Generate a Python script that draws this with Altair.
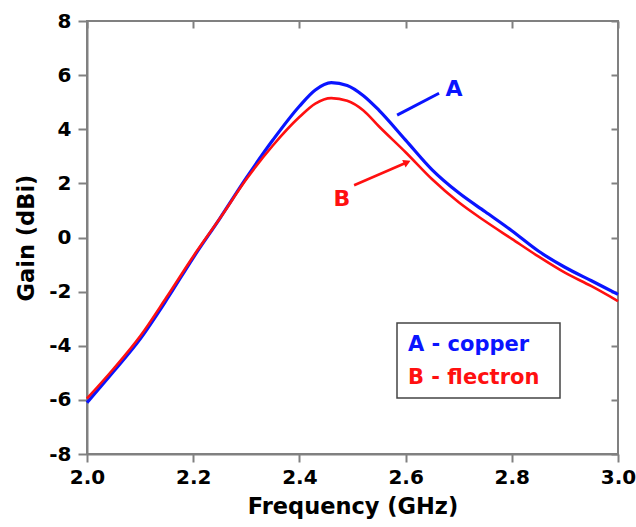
import altair as alt
import pandas as pd

# Frequency (GHz)
freq = [2.00, 2.05, 2.10, 2.15, 2.20, 2.25, 2.30, 2.35, 2.40, 2.43, 2.46, 2.49,
        2.52, 2.55, 2.60, 2.65, 2.70, 2.75, 2.80, 2.85, 2.90, 2.95, 3.00]
# A - copper gain (dBi)
gain_copper = [-6.1, -4.95, -3.75, -2.3, -0.75, 0.7, 2.2, 3.6, 4.85, 5.45, 5.72, 5.62,
               5.25, 4.7, 3.6, 2.5, 1.65, 0.95, 0.25, -0.5, -1.1, -1.6, -2.1]
# B - flectron gain (dBi)
gain_flectron = [-5.95, -4.85, -3.65, -2.2, -0.7, 0.7, 2.15, 3.4, 4.45, 4.95, 5.15, 5.05,
                 4.7, 4.1, 3.15, 2.15, 1.3, 0.6, -0.05, -0.7, -1.3, -1.8, -2.35]

x_ticks = [2.0, 2.2, 2.4, 2.6, 2.8, 3.0]
y_ticks = [-8, -6, -4, -2, 0, 2, 4, 6, 8]

# annotation positions (data units)
ann_a_line_x = [2.584, 2.663]
ann_a_line_y = [4.52, 5.33]
ann_a_text = (2.691, 5.50)
ann_b_line_x = [2.503, 2.603]
ann_b_line_y = [1.93, 2.78]
ann_b_text = (2.480, 1.44)

BLUE = "#0a14ff"
RED = "#ff1010"
GRAY = "#808080"
FONT = "DejaVu Sans"

df_a = pd.DataFrame({"f": freq, "g": gain_copper})
df_b = pd.DataFrame({"f": freq, "g": gain_flectron})

xscale = alt.Scale(domain=[2.0, 3.0], nice=False, zero=False)
yscale = alt.Scale(domain=[-8, 8], nice=False, zero=False)

x_main = alt.X("f:Q", scale=xscale, title="Frequency (GHz)",
               axis=alt.Axis(values=x_ticks, format=".1f", tickSize=8, labelPadding=5,
                             domainColor=GRAY, tickColor=GRAY, domainWidth=2, tickWidth=2,
                             labelFont=FONT, labelFontSize=20, labelFontWeight="bold",
                             labelColor="black", titleFont=FONT, titleFontSize=22.5,
                             titleFontWeight="bold", titleColor="black", titlePadding=8,
                             grid=False, labelFlush=False))
y_main = alt.Y("g:Q", scale=yscale, title="Gain (dBi)",
               axis=alt.Axis(values=y_ticks, tickSize=9, labelPadding=7,
                             labelExpr="replace(datum.label, '\u2212', '-')",
                             domainColor=GRAY, tickColor=GRAY, domainWidth=2, tickWidth=2,
                             labelFont=FONT, labelFontSize=20, labelFontWeight="bold",
                             labelColor="black", titleFont=FONT, titleFontSize=22.5,
                             titleFontWeight="bold", titleColor="black", titlePadding=10,
                             grid=False))

x_top = alt.X("f:Q", scale=xscale, title=None,
              axis=alt.Axis(orient="top", values=x_ticks, offset=-7, tickSize=7,
                            labels=False, domain=False, tickColor=GRAY, tickWidth=2, grid=False))
y_right = alt.Y("g:Q", scale=yscale, title=None,
                axis=alt.Axis(orient="right", values=y_ticks, offset=-7, tickSize=7,
                              labels=False, domain=False, tickColor=GRAY, tickWidth=2, grid=False))

line_a = alt.Chart(df_a).mark_line(color=BLUE, strokeWidth=3.2, interpolate="monotone").encode(
    x=x_main, y=y_main)
line_b = alt.Chart(df_b).mark_line(color=RED, strokeWidth=2.6, interpolate="monotone").encode(
    x=x_top, y=y_right)

plain_x = alt.X("f:Q", scale=xscale, axis=None)
plain_y = alt.Y("g:Q", scale=yscale, axis=None)

ann_a_line = alt.Chart(pd.DataFrame({"f": ann_a_line_x, "g": ann_a_line_y})).mark_line(
    color=BLUE, strokeWidth=3).encode(x=plain_x, y=plain_y)
ann_b_line = alt.Chart(pd.DataFrame({"f": ann_b_line_x, "g": ann_b_line_y})).mark_line(
    color=RED, strokeWidth=2.5).encode(x=plain_x, y=plain_y)
ann_b_head = alt.Chart(pd.DataFrame({"f": [ann_b_line_x[1]], "g": [ann_b_line_y[1]]})).mark_point(
    shape="triangle-right", filled=True, color=RED, size=70, angle=336, opacity=1).encode(
    x=plain_x, y=plain_y)

ann_text = alt.Chart(pd.DataFrame({
    "f": [ann_a_text[0], ann_b_text[0]], "g": [ann_a_text[1], ann_b_text[1]],
    "t": ["A", "B"], "c": [BLUE, RED]})).mark_text(
    font=FONT, fontSize=22, fontWeight="bold", align="center", baseline="middle").encode(
    x=plain_x, y=plain_y, text="t:N", color=alt.Color("c:N", scale=None))

legend_box = alt.Chart(pd.DataFrame({"d": [0]})).mark_rect(
    fill="white", stroke="#444444", strokeWidth=1.5).encode(
    x=alt.value(310), x2=alt.value(473), y=alt.value(302), y2=alt.value(377))
legend_text = alt.Chart(pd.DataFrame({
    "t": ["A - copper", "B - flectron"], "c": [BLUE, RED], "yy": [324, 357]})).mark_text(
    font=FONT, fontSize=21, fontWeight="bold", align="left", baseline="middle").encode(
    x=alt.value(321), y=alt.Y("yy:Q", scale=None), text="t:N",
    color=alt.Color("c:N", scale=None))

chart = alt.layer(
    line_a, line_b, ann_a_line, ann_b_line, ann_b_head, ann_text, legend_box, legend_text
).resolve_axis(x="independent", y="independent").properties(
    width=531, height=433,
    autosize=alt.AutoSizeParams(type="none"),
    padding={"left": 87, "top": 21, "right": 18, "bottom": 73},
).configure_view(stroke=GRAY, strokeWidth=2)

chart.save("out.html", embed_options={"renderer": "svg", "actions": False})
